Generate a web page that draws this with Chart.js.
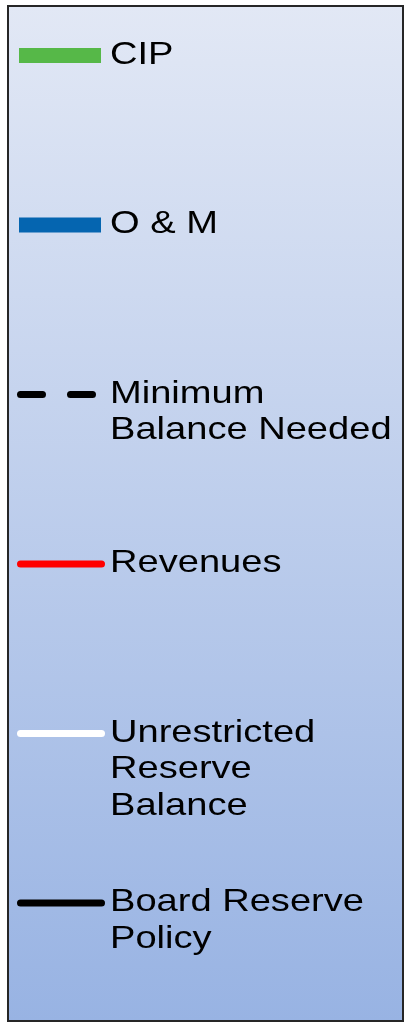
<!DOCTYPE html>
<html>
<head>
<meta charset="utf-8">
<script src="https://cdn.jsdelivr.net/npm/chart.js@4.4.1/dist/chart.umd.min.js"></script>
<style>
  html, body { margin: 0; padding: 0; background: #fff; }
  #wrap { width: 405px; height: 1023px; }
</style>
</head>
<body>
<div id="wrap"><canvas id="leyenda" width="405" height="1023"></canvas></div>
<script>
// Solo la leyenda del grafico aparece en la imagen; las series no tienen valores visibles
const categories = [];
const seriesNames = [
  ['CIP'],
  ['O & M'],
  ['Minimum', 'Balance Needed'],
  ['Revenues'],
  ['Unrestricted', 'Reserve', 'Balance'],
  ['Board Reserve', 'Policy']
];
const cipValues = [];
const omValues = [];
const minBalanceValues = [];
const revenueValues = [];
const reserveValues = [];
const policyValues = [];

// Plugin que dibuja el recuadro y la leyenda
const leyendaPlugin = {
  id: 'leyendaPlugin',
  beforeDraw(chart) {
    const ctx = chart.ctx;
    const g = ctx.createLinearGradient(0, 6, 0, 1021);
    g.addColorStop(0, '#e2e8f5');
    g.addColorStop(1, '#98b3e3');
    ctx.save();
    ctx.fillStyle = g;
    ctx.fillRect(8, 6, 395, 1015);
    ctx.strokeStyle = '#262626';
    ctx.lineWidth = 2;
    ctx.strokeRect(8, 6, 395, 1015);
    ctx.restore();
  },
  afterDraw(chart) {
    const ctx = chart.ctx;
    const top = 55.5;
    const step = 169.5;
    chart.data.datasets.forEach((ds, i) => {
      const y = top + i * step;
      ctx.save();
      if (ds.type === 'bar') {
        ctx.fillStyle = ds.backgroundColor;
        ctx.fillRect(19, y - 7.5, 82, 15);
      } else {
        ctx.strokeStyle = ds.borderColor;
        ctx.lineWidth = 7;
        ctx.lineCap = 'round';
        ctx.setLineDash(ds.borderDash || []);
        ctx.beginPath();
        ctx.moveTo(20.5, y);
        ctx.lineTo(ds.borderDash ? 95 : 101.5, y);
        ctx.stroke();
      }
      // texto (estirado en horizontal como en el original)
      ctx.fillStyle = '#000';
      ctx.font = '32px "Liberation Sans", Arial, sans-serif';
      ctx.textBaseline = 'alphabetic';
      ctx.translate(110, y + 8);
      ctx.scale(1.19, 1);
      seriesNames[i].forEach((line, k) => {
        ctx.fillText(line, 0, k * 36.5);
      });
      ctx.restore();
    });
  }
};

const ctx = document.getElementById('leyenda').getContext('2d');
var leyendaChart = new Chart(ctx, {
  type: 'line',
  data: {
    labels: categories,
    datasets: [
      {
        type: 'bar',
        label: seriesNames[0].join(' '),
        data: cipValues,
        backgroundColor: '#56b848'
      },
      {
        type: 'bar',
        label: seriesNames[1].join(' '),
        data: omValues,
        backgroundColor: '#0565b0'
      },
      {
        label: seriesNames[2].join(' '),
        data: minBalanceValues,
        borderColor: '#000000',
        borderDash: [22, 28]
      },
      {
        label: seriesNames[3].join(' '),
        data: revenueValues,
        borderColor: '#ff0000'
      },
      {
        label: seriesNames[4].join(' '),
        data: reserveValues,
        borderColor: '#ffffff'
      },
      {
        label: seriesNames[5].join(' '),
        data: policyValues,
        borderColor: '#000000'
      }
    ]
  },
  options: {
    responsive: false,
    animation: false,
    plugins: {
      legend: { display: false },
      tooltip: { enabled: false }
    },
    scales: {
      x: { display: false },
      y: { display: false }
    }
  },
  plugins: [leyendaPlugin]
});
</script>
</body>
</html>
